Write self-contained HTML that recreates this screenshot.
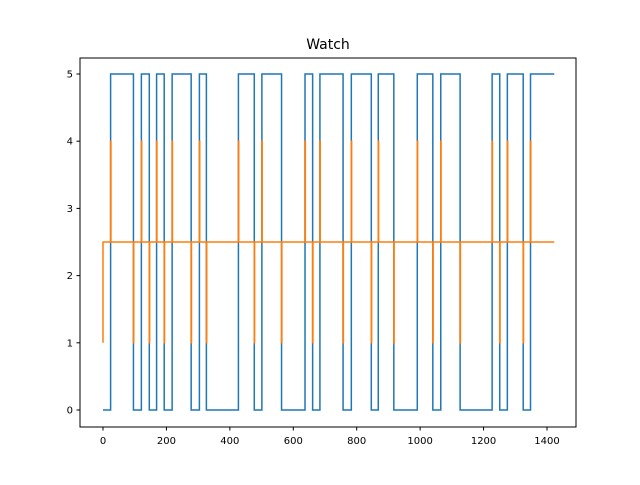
<!DOCTYPE html>
<html><head><meta charset="utf-8"><style>
body{margin:0;background:#fff}
svg text{font-family:"DejaVu Sans","Liberation Sans",sans-serif;fill:#000}
</style></head><body>
<svg id="c" width="640" height="480" xmlns="http://www.w3.org/2000/svg">
<text x="328" y="49" font-size="14" text-anchor="middle">Watch</text>
<rect x="80" y="58" width="496" height="369" fill="none" stroke="#000" stroke-width="1"/>
<g id="g"></g>
</svg>
<script>
const edgeX = [24,96,121,146,169,193,218,278,304,326,427,477,501,563,637,661,684,757,783,846,868,917,991,1040,1065,1126,1227,1251,1275,1325,1348];
const blueLevels = [5,0,5,0,5,0,5,0,5,0,5,0,5,0,5,0,5,0,5,0,5,0,5,0,5,0,5,0,5,0,5];
const orangeSpikes = [4,1,4,1,4,1,4,1,4,1,4,1,4,1,4,1,4,1,4,1,4,1,4,1,4,1,4,1,4,1,4];
const blueStart = 0, orangeStart = 1, orangeBase = 2.5, xEnd = 1423;
const xTicks = [0,200,400,600,800,1000,1200,1400];
const yTicks = [0,1,2,3,4,5];
const sx = v => 103 + v * 0.31714;
const sy = v => 410 - v * 67.2;
const NS = "http://www.w3.org/2000/svg";
const g = document.getElementById('g');
function mk(t, a){const e=document.createElementNS(NS,t);for(const k in a)e.setAttribute(k,a[k]);g.appendChild(e);return e;}
xTicks.forEach(v=>{
  const l=mk('line',{x1:sx(v),x2:sx(v),y1:427,y2:430.5,stroke:'#000'});
  
  
  const t=mk('text',{x:sx(v),y:444,'font-size':10,'text-anchor':'middle'});t.textContent=v;
  
  
});
yTicks.forEach(v=>{
  const l=mk('line',{x1:76.5,x2:80,y1:sy(v),y2:sy(v),stroke:'#000'});
  
  
  const t=mk('text',{x:73,y:sy(v)+3.5,'font-size':10,'text-anchor':'end'});t.textContent=v;
  
  
});
// blue step
let pts=[[0,blueStart]];let cur=blueStart;
edgeX.forEach((x,i)=>{pts.push([x,cur]);cur=blueLevels[i];pts.push([x,cur]);});
pts.push([xEnd,cur]);
const b=mk('polyline',{points:pts.map(p=>sx(p[0])+','+sy(p[1])).join(' '),fill:'none',stroke:'#1f77b4','stroke-width':1.5});


// orange
let op=[[0,orangeStart],[0,orangeBase],[1,orangeBase]];
edgeX.forEach((x,i)=>{op.push([x,orangeBase],[x,orangeSpikes[i]],[x+1,orangeSpikes[i]],[x+1,orangeBase]);});
op.push([xEnd,orangeBase]);
const o=mk('polyline',{points:op.map(p=>sx(p[0])+','+sy(p[1])).join(' '),fill:'none',stroke:'#ff7f0e','stroke-width':1.5});


</script>
</body></html>
